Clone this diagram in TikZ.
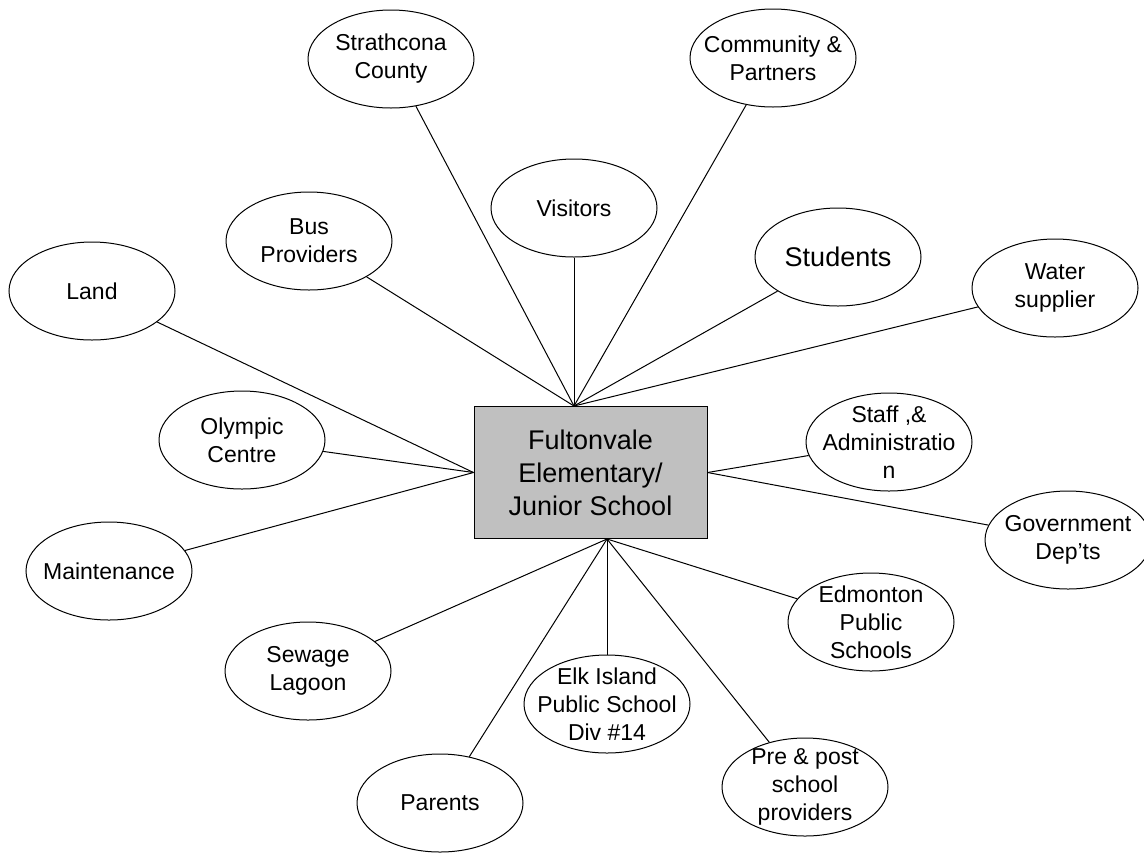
\documentclass[tikz,border=0pt]{standalone}
\usepackage{fontspec}
\setmainfont{Liberation Sans}
\usetikzlibrary{shapes.geometric}

\begin{document}
\begin{tikzpicture}[x=0.5pt,y=-0.5pt,
  party/.style={draw,line width=0.5pt,ellipse,inner sep=0pt,
    minimum width=83pt,minimum height=49pt},
  tx/.style={align=center,inner sep=0pt,font=\fontsize{11.5}{14}\selectfont},
  school/.style={draw,line width=0.5pt,fill={rgb,255:red,192;green,192;blue,192},
    minimum width=116.5pt,minimum height=66pt,inner sep=0pt,align=center,
    font=\fontsize{13.5}{16.5}\selectfont},
  link/.style={line width=0.5pt}]
\useasboundingbox (0,0) rectangle (1144,852);
% school in the middle
\node[school] (fulton) at (590.5,472.5) {Fultonvale\\Elementary/\\Junior School};
\coordinate (topjoin) at (574,406);
\coordinate (botjoin) at (607,539);
% stakeholders
\node[party,label={[tx]center:Strathcona\\County}] (strath) at (391,59) {};
\node[party,label={[tx]center:Community \&\\Partners}] (community) at (773,58) {};
\node[party,label={[tx]center:Visitors}] (visitors) at (574,208) {};
\node[party,label={[tx]center:Bus\\Providers}] (bus) at (309,241) {};
\node[party,label={[tx,font=\fontsize{13.5}{16}\selectfont]center:Students}] (students) at (838,257) {};
\node[party,label={[tx]center:Land}] (land) at (92,291) {};
\node[party,label={[tx]center:Water\\supplier}] (water) at (1055,288) {};
\node[party,label={[tx]center:Olympic\\Centre}] (olympic) at (242,440) {};
\node[party,label={[tx]center:Staff ,\&\\Administratio\\n}] (staff) at (889,442) {};
\node[party,label={[tx]center:Maintenance}] (maint) at (109,571) {};
\node[party,label={[tx]center:Government\\Dep’ts}] (govt) at (1068,540) {};
\node[party,label={[tx]center:Edmonton\\Public\\Schools}] (edmonton) at (871,622) {};
\node[party,label={[tx]center:Sewage\\Lagoon}] (sewage) at (308,671) {};
\node[party,label={[tx]center:Elk Island\\Public School\\Div \#14}] (elk) at (607,704) {};
\node[party,label={[tx]center:Parents}] (parents) at (440,803) {};
\node[party,label={[tx]center:Pre \& post\\school\\providers}] (prepost) at (805,787) {};
% connectors
\foreach \p in {strath,community,visitors,bus,students,water}
  \draw[link] (topjoin) -- (\p);
\foreach \p in {land,olympic,maint}
  \draw[link] (fulton.west) -- (\p);
\foreach \p in {staff,govt}
  \draw[link] (fulton.east) -- (\p);
\foreach \p in {sewage,parents,elk,prepost,edmonton}
  \draw[link] (botjoin) -- (\p);
\end{tikzpicture}
\end{document}
